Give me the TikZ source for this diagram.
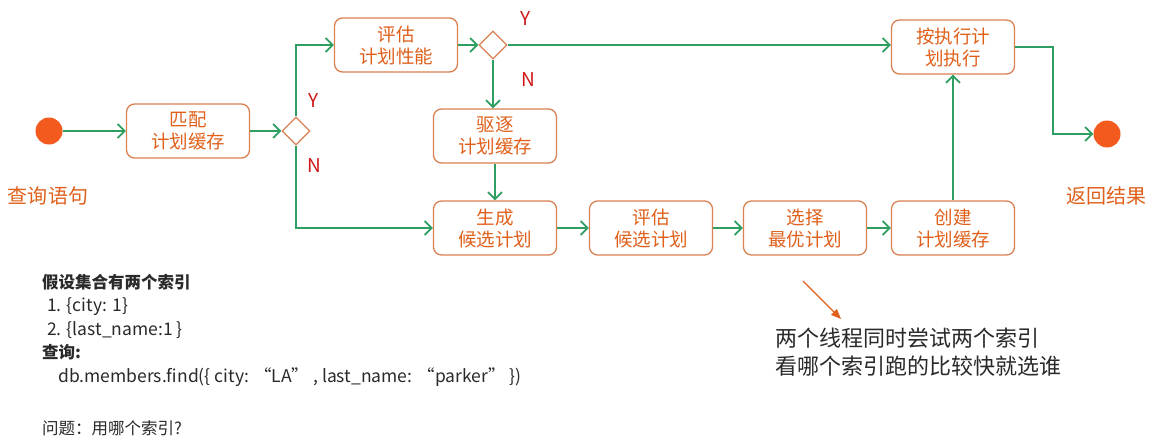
\documentclass[tikz,border=0pt]{standalone}
\usepackage{fontspec}
\setmainfont{Noto Sans CJK SC}
\usetikzlibrary{arrows.meta,shapes.geometric}
\definecolor{boxline}{HTML}{D98152}
\definecolor{boxtext}{HTML}{E0601A}
\definecolor{flow}{HTML}{2E9E62}
\definecolor{dot}{HTML}{F25A1E}
\definecolor{yn}{HTML}{D01818}
\definecolor{note}{HTML}{2A2A2A}
\tikzset{
  stepbox/.style={draw=boxline, line width=1.3pt, rounded corners=8pt, minimum width=123pt, minimum height=54pt, align=center, text=boxtext, font=\fontsize{18.5}{22}\selectfont, inner sep=0pt},
  decision/.style={draw=boxline, line width=1.3pt, diamond, minimum width=28pt, minimum height=28pt, inner sep=0pt},
  enddot/.style={circle, fill=dot, minimum size=27pt, inner sep=0pt},
  flowline/.style={draw=flow, line width=1.8pt, -{Straight Barb[length=7pt,width=14pt,line width=1.8pt]}},
  ynlabel/.style={text=yn, font=\fontsize{19}{22}\selectfont},
  orangelabel/.style={text=boxtext, font=\fontsize{20}{24}\selectfont},
}
\begin{document}
\begin{tikzpicture}[x=1pt,y=-1pt]
\useasboundingbox[fill=white] (0,0) rectangle (1158,442);
\node[enddot] (start) at (49,131) {};
\node[orangelabel] (startlbl) at (48,196) {查询语句};
\node[stepbox] (match) at (188,131) {匹配\\计划缓存};
\node[decision] (d1) at (296,131) {};
\node[stepbox] (evalperf) at (396,45) {评估\\计划性能};
\node[decision] (d2) at (493,45) {};
\node[stepbox] (evict) at (495,136) {驱逐\\计划缓存};
\node[stepbox] (gen) at (495,228) {生成\\候选计划};
\node[stepbox] (evalcand) at (651,228) {评估\\候选计划};
\node[stepbox] (choose) at (805,228) {选择\\最优计划};
\node[stepbox] (create) at (953,228) {创建\\计划缓存};
\node[stepbox] (exec) at (953,47) {按执行计\\划执行};
\node[enddot] (end) at (1107,134) {};
\node[orangelabel] (endlbl) at (1106,196) {返回结果};

\node[ynlabel] (y1) at (314,101) {Y};
\node[ynlabel] (n1) at (314,166) {N};
\node[ynlabel] (y2) at (526,19) {Y};
\node[ynlabel] (n2) at (528,80) {N};

\draw[flowline] (start) -- (match);
\draw[flowline] (match) -- (d1);
\draw[flowline] (d1.north) |- (evalperf.west);
\draw[flowline] (d1.south) |- (gen.west);
\draw[flowline] (evalperf) -- (d2);
\draw[flowline] (d2.east) -- (d2.east -| exec.west);
\draw[flowline] (d2.south) -- (d2.south |- evict.north);
\draw[flowline] (evict) -- (gen);
\draw[flowline] (gen) -- (evalcand);
\draw[flowline] (evalcand) -- (choose);
\draw[flowline] (choose) -- (create);
\draw[flowline] (create) -- (exec);
\coordinate (turn) at (1053,47);
\draw[flowline] (exec.east |- turn) -- (turn) |- (end.west);

\coordinate (arrs) at (803,281);
\coordinate (arre) at (841,319);
\draw[draw=boxtext, line width=1.3pt, -{Triangle[length=10pt,width=8pt]}] (arrs) -- (arre);

\node[anchor=west, text=note, font=\fontsize{22}{28}\selectfont, align=left, inner sep=0pt] (note) at (775,352) {两个线程同时尝试两个索引\\看哪个索引跑的比较快就选谁};

\node[anchor=north west, text=note, font=\fontsize{16.5}{23.5}\selectfont, align=left, inner sep=0pt] (info) at (42,274) {%
\textbf{假设集合有两个索引}\\
\hspace*{5pt}{\fontsize{17.5}{23.5}\selectfont 1. \{city: 1\}}\\
\hspace*{5pt}{\fontsize{17.5}{23.5}\selectfont 2. \{last\_name:1 \}}\\
\textbf{查询:}\\
\hspace*{16pt}{\fontsize{17.5}{23.5}\selectfont db.members.find(\{ city: “LA” , last\_name: “parker” \})}\\[29pt]
问题：用哪个索引?};
\end{tikzpicture}
\end{document}
